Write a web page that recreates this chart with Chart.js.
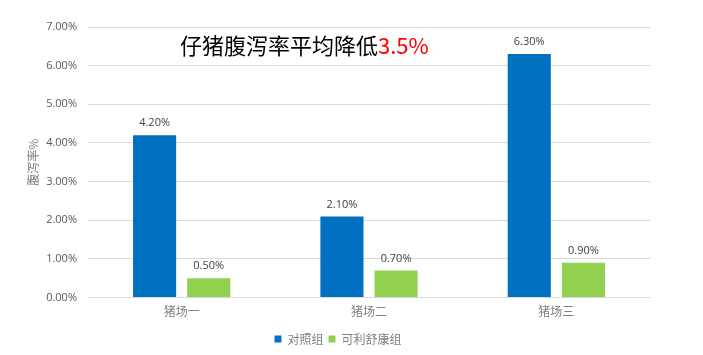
<!DOCTYPE html>
<html>
<head>
<meta charset="utf-8">
<script src="https://cdn.jsdelivr.net/npm/chart.js@4/dist/chart.umd.min.js"></script>
<style>
html,body{margin:0;padding:0;background:#fff;}
#wrap{width:703px;height:355px;}
</style>
</head>
<body>
<div id="wrap"><canvas id="c" width="703" height="355"></canvas></div>
<script>
const categories = ['猪场一', '猪场二', '猪场三'];
const controlValues = [4.2, 2.1, 6.3];
const treatedValues = [0.5, 0.7, 0.9];
const seriesNames = ['对照组', '可利舒康组'];
const yTickMax = 7;
const titleMain = '仔猪腹泻率平均降低';
const titleHighlight = '3.5%';
const yAxisTitle = '腹泻率%';

const CJK = '"Noto Sans CJK SC", "Noto Sans", sans-serif';
const NUM = '"Open Sans", "Noto Sans", sans-serif';

const valueLabels = {
  id: 'valueLabels',
  afterDatasetsDraw(chart) {
    const ctx = chart.ctx;
    ctx.save();
    ctx.font = '11px ' + NUM;
    ctx.fillStyle = '#404040';
    ctx.textAlign = 'center';
    ctx.textBaseline = 'middle';
    chart.data.datasets.forEach((ds, i) => {
      const meta = chart.getDatasetMeta(i);
      meta.data.forEach((bar, j) => {
        ctx.fillText(ds.data[j].toFixed(2) + '%', bar.x, bar.y - 12);
      });
    });
    ctx.restore();
  }
};

const overlayTitle = {
  id: 'overlayTitle',
  afterDraw(chart) {
    const ctx = chart.ctx;
    ctx.save();
    ctx.font = '22px ' + CJK;
    ctx.textBaseline = 'middle';
    ctx.textAlign = 'left';
    const x0 = 180, y0 = 46;
    ctx.fillStyle = '#000000';
    ctx.fillText(titleMain, x0, y0);
    const w = ctx.measureText(titleMain).width;
    ctx.fillStyle = '#FF0000';
    ctx.fillText(titleHighlight, x0 + w, y0);
    ctx.restore();
  }
};

new Chart(document.getElementById('c'), {
  type: 'bar',
  data: {
    labels: categories,
    datasets: [
      { label: seriesNames[0], data: controlValues, backgroundColor: '#0070C0', borderWidth: 0 },
      { label: seriesNames[1], data: treatedValues, backgroundColor: '#92D050', borderWidth: 0 }
    ]
  },
  options: {
    responsive: false,
    animation: false,
    devicePixelRatio: 1,
    layout: { padding: { left: 26, right: 53, top: 27, bottom: 0 } },
    datasets: { bar: { categoryPercentage: 0.578, barPercentage: 0.796 } },
    plugins: {
      tooltip: { enabled: false },
      title: { display: false },
      legend: {
        position: 'bottom',
        labels: {
          boxWidth: 7, boxHeight: 7, padding: 5,
          color: '#7f7f7f',
          font: { size: 12, family: CJK }
        }
      }
    },
    scales: {
      x: {
        afterFit(scale) { scale.height += 10; },
        grid: { display: false },
        border: { display: false },
        ticks: { color: '#7f7f7f', font: { size: 12, family: CJK }, padding: -1 }
      },
      y: {
        min: 0, max: yTickMax,
        afterFit(scale) { scale.width = 62; },
        ticks: {
          stepSize: 1,
          color: '#595959',
          font: { size: 11, family: NUM },
          padding: 11,
          callback: v => v.toFixed(2) + '%'
        },
        grid: { color: '#d9d9d9', lineWidth: 1, drawTicks: false },
        border: { display: false },
        title: {
          display: true, text: yAxisTitle, color: '#7f7f7f',
          font: { size: 12, family: CJK }, padding: { top: 0, bottom: 0 }
        }
      }
    }
  },
  plugins: [valueLabels, overlayTitle]
});
</script>
</body>
</html>
